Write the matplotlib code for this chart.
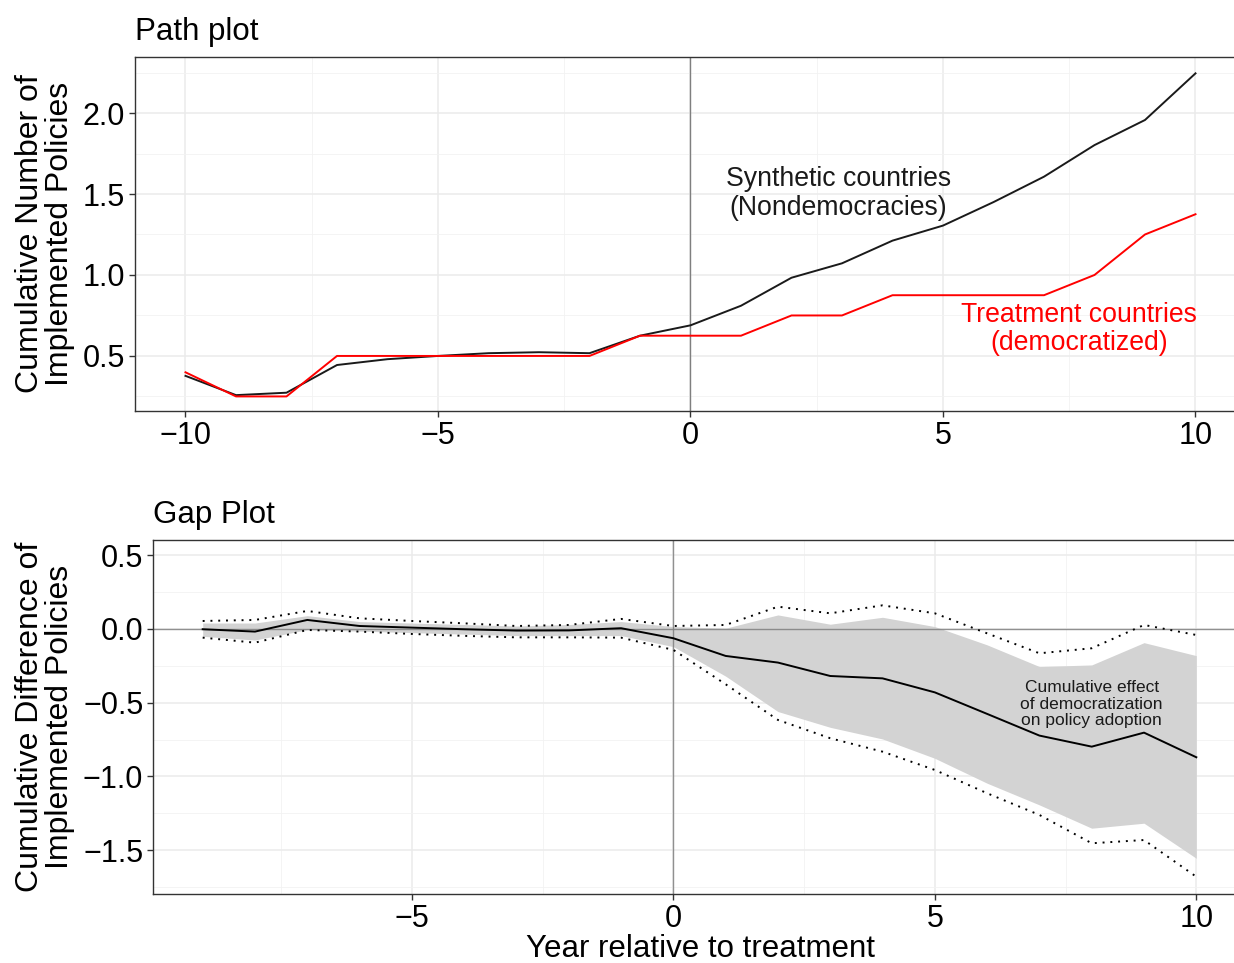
import matplotlib
matplotlib.use("Agg")
import matplotlib.pyplot as plt
from matplotlib.ticker import FixedLocator

plt.rcParams['font.family'] = ['Liberation Sans', 'DejaVu Sans']

# ---------------- data ----------------
path_years = [-10, -9, -8, -7, -6, -5, -4, -3, -2, -1, 0, 1, 2, 3, 4, 5, 6, 7, 8, 9, 10]
synthetic = [0.377, 0.258, 0.273, 0.444, 0.48, 0.50, 0.517, 0.523, 0.517, 0.625, 0.689,
             0.81, 0.983, 1.072, 1.212, 1.305, 1.45, 1.607, 1.802, 1.957, 2.245]
treated = [0.399, 0.25, 0.25, 0.50, 0.50, 0.50, 0.50, 0.50, 0.50, 0.625, 0.625,
           0.625, 0.75, 0.75, 0.875, 0.875, 0.875, 0.875, 1.0, 1.25, 1.375]

gap_years = [-9, -8, -7, -6, -5, -4, -3, -2, -1, 0, 1, 2, 3, 4, 5, 6, 7, 8, 9, 10]
gap = [-0.002, -0.018, 0.061, 0.02, 0.009, -0.002, -0.011, -0.01, 0.005, -0.063,
       -0.183, -0.228, -0.319, -0.335, -0.43, -0.576, -0.723, -0.798, -0.703, -0.87]
band_upper = [0.04, 0.04, 0.09, 0.05, 0.04, 0.03, 0.02, 0.03, 0.05, 0.016,
              0.005, 0.095, 0.032, 0.079, 0.016, -0.108, -0.255, -0.244, -0.093, -0.181]
band_lower = [-0.05, -0.075, -0.005, -0.015, -0.025, -0.035, -0.045, -0.045, -0.045, -0.12,
              -0.32, -0.56, -0.667, -0.746, -0.877, -1.046, -1.193, -1.351, -1.317, -1.555]
dot_upper = [0.054, 0.061, 0.122, 0.072, 0.054, 0.038, 0.02, 0.027, 0.068, 0.02,
             0.027, 0.151, 0.106, 0.16, 0.106, -0.03, -0.165, -0.131, 0.027, -0.041]
dot_lower = [-0.059, -0.093, -0.007, -0.018, -0.034, -0.047, -0.057, -0.057, -0.059, -0.142,
             -0.375, -0.617, -0.741, -0.832, -0.956, -1.114, -1.261, -1.453, -1.431, -1.68]

path_xticks = [-10, -5, 0, 5, 10]
path_yticks = [0.5, 1.0, 1.5, 2.0]
gap_xticks = [-5, 0, 5, 10]
gap_yticks = [-1.5, -1.0, -0.5, 0.0, 0.5]

# ---------------- figure ----------------
W, H = 1234, 963
fig = plt.figure(figsize=(W / 100, H / 100), dpi=100)


def box(l, t, r, b):
    return [l / W, (H - b) / H, (r - l) / W, (b - t) / H]


def fx(px):
    return px / W


def fy(py):
    return (H - py) / H


grid_major = '#ebebeb'
grid_minor = '#f2f2f2'
ref_col = '#7f7f7f'
border_col = '#333333'


def style(ax, xticks, yticks, xminor, yminor):
    ax.set_xticks(xticks)
    ax.set_yticks(yticks)
    ax.xaxis.set_minor_locator(FixedLocator(xminor))
    ax.yaxis.set_minor_locator(FixedLocator(yminor))
    ax.grid(which='major', color=grid_major, lw=1.1, zorder=0)
    ax.grid(which='minor', color=grid_minor, lw=0.6, zorder=0)
    ax.set_axisbelow(True)
    for s in ax.spines.values():
        s.set_color(border_col)
        s.set_linewidth(1.0)
    ax.tick_params(which='major', length=4, width=1.0, color=border_col,
                   labelsize=22, labelcolor='black', pad=3)
    ax.tick_params(which='minor', length=0)
    ax.xaxis.set_major_formatter(matplotlib.ticker.FuncFormatter(
        lambda v, p: ('%d' % v).replace('-', '\u2212')))
    ax.yaxis.set_major_formatter(matplotlib.ticker.FuncFormatter(
        lambda v, p: ('%.1f' % v).replace('-', '\u2212')))


# Top: path plot
ax1 = fig.add_axes(box(135, 57, 1246, 411))
ax1.set_xlim(-11, 11)
ax1.set_ylim(0.16, 2.346)
style(ax1, path_xticks, path_yticks, [-7.5, -2.5, 2.5, 7.5], [0.25, 0.75, 1.25, 1.75, 2.25])
ax1.axvline(0, color=ref_col, lw=1.0, zorder=1)
ax1.plot(path_years, synthetic, color='#1a1a1a', lw=1.4, zorder=3)
ax1.plot(path_years, treated, color='#ff0000', lw=1.4, zorder=3)
ax1.text(2.93, 1.505, 'Synthetic countries\n(Nondemocracies)', ha='center', va='center',
         fontsize=19.2, color='#1a1a1a', linespacing=1.15)
ax1.text(7.7, 0.665, 'Treatment countries\n(democratized)', ha='center', va='center',
         fontsize=19.2, color='#ff0000', linespacing=1.1)
fig.text(fx(135), fy(32), 'Path plot', ha='left', va='center', fontsize=22.5)

# Bottom: gap plot
ax2 = fig.add_axes(box(153, 540, 1246, 894))
ax2.set_xlim(-9.95, 10.95)
ax2.set_ylim(-1.797, 0.603)
style(ax2, gap_xticks, gap_yticks, [-7.5, -2.5, 2.5, 7.5],
      [-1.75, -1.25, -0.75, -0.25, 0.25])
ax2.fill_between(gap_years, band_lower, band_upper, color='#d3d3d3', lw=0, zorder=1)
ax2.axvline(0, color=ref_col, lw=1.0, zorder=2, alpha=0.85)
ax2.axhline(0, color=ref_col, lw=1.0, zorder=2, alpha=0.85)
ax2.plot(gap_years, dot_upper, color='black', lw=1.4, ls=(0, (1, 3)), zorder=3)
ax2.plot(gap_years, dot_lower, color='black', lw=1.4, ls=(0, (1, 3)), zorder=3)
ax2.plot(gap_years, gap, color='black', lw=1.4, zorder=4)
ax2.text(8.0, -0.51, 'Cumulative effect\nof democratization\non policy adoption',
         ha='center', va='center', fontsize=12.5, color='#1a1a1a', linespacing=1.1)
fig.text(fx(153), fy(515), 'Gap Plot', ha='left', va='center', fontsize=22.5)

# Axis titles
fig.text(fx(45), fy(234), 'Cumulative Number of\nImplemented Policies', rotation=90,
         ha='center', va='center', fontsize=23, linespacing=1.0)
fig.text(fx(45), fy(717), 'Cumulative Difference of\nImplemented Policies', rotation=90,
         ha='center', va='center', fontsize=23, linespacing=1.0)
fig.text(fx(700), fy(949), 'Year relative to treatment', ha='center', va='center', fontsize=22.5)

fig.savefig('out.png', dpi=100)
